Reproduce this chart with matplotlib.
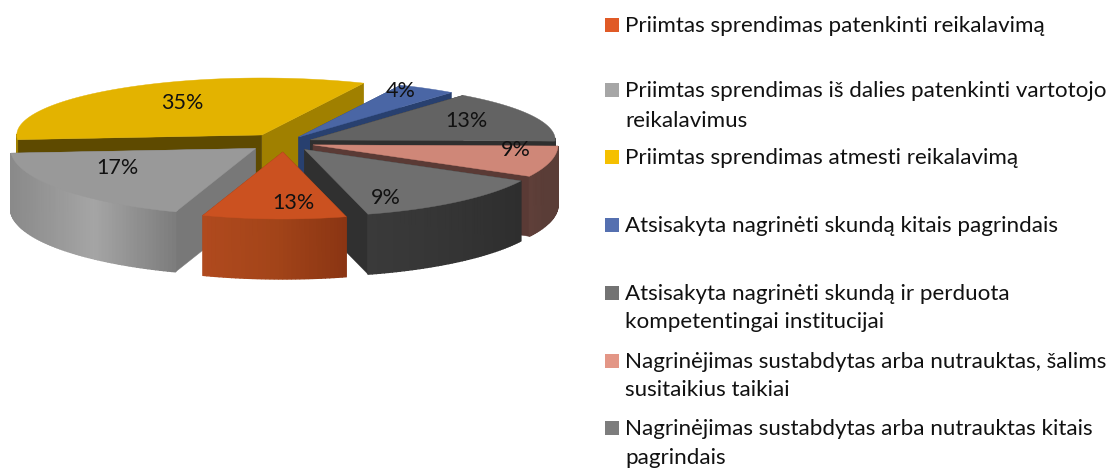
"""Exploded pseudo-3D pie of complaint outcomes, with a hand-placed legend."""
import matplotlib

matplotlib.use("Agg")
import matplotlib.pyplot as plt
import numpy as np
from matplotlib.colors import to_hex, to_rgb
from matplotlib.patches import Polygon, Rectangle

plt.rcParams["font.family"] = ["Lato", "DejaVu Sans"]

# Data, clockwise from the orange slice
values = [13, 17, 35, 4, 13, 9, 9]
legend_labels = [
    ["Priimtas sprendimas patenkinti reikalavimą"],
    ["Priimtas sprendimas iš dalies patenkinti vartotojo", "reikalavimus"],
    ["Priimtas sprendimas atmesti reikalavimą"],
    ["Atsisakyta nagrinėti skundą kitais pagrindais"],
    ["Atsisakyta nagrinėti skundą ir perduota", "kompetentingai institucijai"],
    ["Nagrinėjimas sustabdytas arba nutrauktas, šalims", "susitaikius taikiai"],
    ["Nagrinėjimas sustabdytas arba nutrauktas kitais", "pagrindais"],
]

# Colours
top_colors = ["#cb5120", "#999999", "#e3b300", "#4a66a5", "#636363", "#cf8778", "#6f6f6f"]
face_colors = ["#8a3513", "#787878", "#a08000", "#28406f", "#2f2f2f", "#5a3a35", "#303030"]
back_face_colors = ["#8a3513", "#787878", "#5e4a00", "#28406f", "#2f2f2f", "#5a3a35", "#303030"]
side_stops = [
    ["#b04a1e", "#a34419", "#8a3513"],
    ["#8a8a8a", "#a5a5a5", "#7c7c7c"],
    ["#a08000", "#a08000", "#5e4a00"],
    ["#28406f", "#28406f", "#28406f"],
    ["#2f2f2f", "#2f2f2f", "#2f2f2f"],
    ["#5f3f39", "#5a3d37", "#5a3d37"],
    ["#3a3a3a", "#353535", "#2e2e2e"],
]
legend_colors = ["#e05a26", "#a6a6a6", "#f5c000", "#5570b0", "#737373", "#e39686", "#7d7d7d"]

# Layout, in image pixels
CENTER = (284, 143)
RX = 245
RY_FRONT = 67
RY_BACK = 57
DEPTH = 60
START = -15  # degrees clockwise from straight down
# the source's 3D rendering does not draw slices quite to proportion
sweep_adjust = [-12.8, 5.8, -7.4, -0.4, 5.6, -5.4, 14.6]
explode = [36, 36, 39, 28, 29, 30, 33]
EXPLODE_Y = 0.25
draw_order = [2, 3, 4, 5, 1, 6, 0]
label_xy = [(293, 203), (117, 168), (182, 103), (401, 91), (466, 121), (516, 150), (386, 198)]
legend_y = [[26], [91, 121], [158], [226], [294, 322], [362, 390], [429, 458]]


def rim(theta, apex):
    """Point(s) on the top rim of a slice for angles in degrees."""
    t = np.radians(theta)
    ry = np.where(np.cos(t) > 0, RY_FRONT, RY_BACK)
    return apex[0] - np.sin(t) * RX, apex[1] + np.cos(t) * ry


def lerp_color(stops, f):
    rgb = np.array([to_rgb(c) for c in stops])
    pos = np.linspace(0, 1, len(stops))
    return to_hex([np.interp(f, pos, rgb[:, i]) for i in range(3)])


def draw_slice(ax, i, t0, t1):
    mid = (t0 + t1) / 2
    m = np.radians(mid)
    apex = (CENTER[0] - np.sin(m) * explode[i],
            CENTER[1] + np.cos(m) * explode[i] * EXPLODE_Y)
    thetas = np.arange(t0, t1, 1.0)
    thetas = np.append(thetas, t1)
    xs, ys = rim(thetas, apex)

    # flat cut faces, the one reaching further forward painted last
    ends = sorted([(ys[0], xs[0]), (ys[-1], xs[-1])])
    for n, (ey, ex) in enumerate(ends):
        col = back_face_colors[i] if ex < apex[0] else face_colors[i]
        ax.add_patch(Polygon([apex, (ex, ey), (ex, ey + DEPTH), (apex[0], apex[1] + DEPTH)],
                             closed=True, fc=col, ec=col, lw=0.3, zorder=10 + n))

    # outer wall as thin strips, shaded left to right
    x_min, x_max = xs.min(), xs.max()
    for a, b, xa, xb, ya, yb in zip(thetas[:-1], thetas[1:], xs[:-1], xs[1:], ys[:-1], ys[1:]):
        if np.cos(np.radians((a + b) / 2)) <= -0.02:
            continue
        f = ((xa + xb) / 2 - x_min) / max(x_max - x_min, 1)
        col = lerp_color(side_stops[i], f)
        ax.add_patch(Polygon([(xa, ya), (xb, yb), (xb, yb + DEPTH), (xa, ya + DEPTH)],
                             closed=True, fc=col, ec=col, lw=1.0, zorder=12))

    top = [apex] + list(zip(xs, ys))
    ax.add_patch(Polygon(top, closed=True, fc=top_colors[i], ec=top_colors[i], lw=0.3, zorder=13))


def main():
    fig = plt.figure(figsize=(11.09, 4.68), dpi=100)
    ax = fig.add_axes([0, 0, 1, 1])
    ax.set_xlim(0, 1109)
    ax.set_ylim(468, 0)
    ax.axis("off")

    sweeps = np.array(values) * 3.6 + np.array(sweep_adjust)
    edges = START + np.concatenate([[0], np.cumsum(sweeps)])

    # painter's order, back slices first; zorder is local to each slice
    for rank, i in enumerate(draw_order):
        before = set(ax.patches)
        draw_slice(ax, i, edges[i], edges[i + 1])
        for p in ax.patches:
            if p not in before:
                p.set_zorder(p.get_zorder() + rank * 10)

    for v, (x, y) in zip(values, label_xy):
        ax.text(x, y, f"{v}%", ha="center", va="center", fontsize=15.5, color="#111111", zorder=200)

    for col, lines, ys in zip(legend_colors, legend_labels, legend_y):
        ax.add_patch(Rectangle((605, ys[0] - 8), 14, 14, fc=col, ec="none"))
        for line, y in zip(lines, ys):
            ax.text(625, y, line, ha="left", va="center", fontsize=16.1, color="#111111")

    fig.savefig("out.png", dpi=100)


if __name__ == "__main__":
    main()
